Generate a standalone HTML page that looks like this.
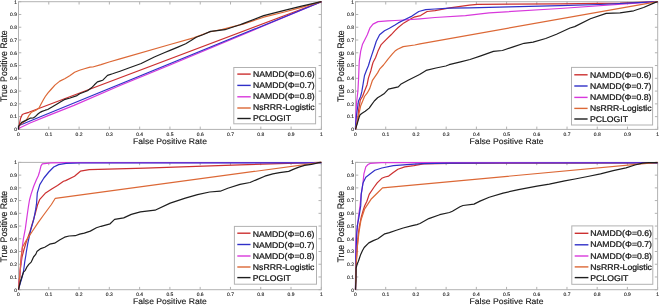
<!DOCTYPE html><html><head><meta charset="utf-8"><style>html,body{margin:0;padding:0;background:#fff;width:659px;height:305px;overflow:hidden}svg{display:block;filter:blur(0.35px)}text{font-family:"Liberation Sans",sans-serif;text-rendering:geometricPrecision}.tg{filter:grayscale(1)}</style></head><body>
<svg width="659" height="305" viewBox="0 0 659 305">
<rect width="659" height="305" fill="#fff"/>
<rect x="18.5" y="1.7" width="302.9" height="127.7" fill="none" stroke="#b2b2b2" stroke-width="1"/>
<path d="M18.5 129.4v-2.8M18.5 1.7v2.8M18.5 129.4h2.8M321.4 129.4h-2.8M48.79 129.4v-2.8M48.79 1.7v2.8M18.5 116.63h2.8M321.4 116.63h-2.8M79.08 129.4v-2.8M79.08 1.7v2.8M18.5 103.86h2.8M321.4 103.86h-2.8M109.37 129.4v-2.8M109.37 1.7v2.8M18.5 91.09h2.8M321.4 91.09h-2.8M139.66 129.4v-2.8M139.66 1.7v2.8M18.5 78.32h2.8M321.4 78.32h-2.8M169.95 129.4v-2.8M169.95 1.7v2.8M18.5 65.55h2.8M321.4 65.55h-2.8M200.24 129.4v-2.8M200.24 1.7v2.8M18.5 52.78h2.8M321.4 52.78h-2.8M230.53 129.4v-2.8M230.53 1.7v2.8M18.5 40.01h2.8M321.4 40.01h-2.8M260.82 129.4v-2.8M260.82 1.7v2.8M18.5 27.24h2.8M321.4 27.24h-2.8M291.11 129.4v-2.8M291.11 1.7v2.8M18.5 14.47h2.8M321.4 14.47h-2.8M321.4 129.4v-2.8M321.4 1.7v2.8M18.5 1.7h2.8M321.4 1.7h-2.8" stroke="#b2b2b2" stroke-width="1" fill="none"/>
<polyline fill="none" stroke="#cc3030" stroke-width="1.2" stroke-linejoin="round" points="18.5,129.4 18.8,127 20.5,118.6 22.3,114.5 25.3,113.3 28.8,112.3 321.4,1.7"/>
<polyline fill="none" stroke="#d838dc" stroke-width="1.2" stroke-linejoin="round" points="18.5,129.4 19.5,128 30,123 50,114.9 74,105.4 120,85.5 170,65 321.4,1.7"/>
<polyline fill="none" stroke="#3030c8" stroke-width="1.2" stroke-linejoin="round" points="18.5,129.4 18.5,125.7 321.4,1.7"/>
<polyline fill="none" stroke="#dc6836" stroke-width="1.2" stroke-linejoin="round" points="18.5,129.4 19,125.5 23.1,122.5 26.4,120 28.8,115.7 31.5,112.2 35.9,110.2 39,108.1 41.2,103.8 43.5,99.5 45.3,96.5 48,92.8 51,89.5 54.9,85.1 59.8,81.1 64.7,78.7 69.7,75.7 74.6,72.3 79.5,70.3 84.4,68.8 90,67.1 92.8,67 101,64.6 109.2,62 120,58.8 170,44.5 193.6,37.9 209.3,32 222.4,29.4 240,24.8 243,24.1 263.7,17.2 284.4,12 300.5,7.6 321.4,1.7"/>
<polyline fill="none" stroke="#1e1e1e" stroke-width="1.2" stroke-linejoin="round" points="18.5,129.4 18.5,126.5 21.7,122.4 26.4,120.1 30.1,118.2 33.5,117.8 35.5,116.4 38.2,113.8 40.6,112.1 42.1,111.4 45.3,110.2 47.7,109.5 52.4,106.8 57.1,103.9 59.5,102.4 64.2,99.7 70.1,98 77,95.6 79.7,93.7 87.5,90.7 91.5,87.8 94.4,84.8 97.4,81.9 100,81.1 102.6,80.3 107.5,75.4 112.5,73.8 120,71.2 128.1,68.2 141.2,63.5 154.3,57 164.8,52.5 170,50.4 177.9,47.1 185.7,43.8 191,40.6 196.2,37.3 202.8,34.7 210.6,31.4 217.2,30.7 225,29.7 231.6,27.5 240,24.8 243,23.6 263.7,15.6 284.4,10.3 300.5,6.4 321.4,1.7"/>
<rect x="233.8" y="67.5" width="81.8" height="56.3" fill="#fff" stroke="#b2b2b2" stroke-width="1"/>
<line x1="237.3" y1="74.1" x2="250.7" y2="74.1" stroke="#cc3030" stroke-width="1.4"/>
<line x1="237.3" y1="85.4" x2="250.7" y2="85.4" stroke="#3030c8" stroke-width="1.4"/>
<line x1="237.3" y1="96.8" x2="250.7" y2="96.8" stroke="#d838dc" stroke-width="1.4"/>
<line x1="237.3" y1="108" x2="250.7" y2="108" stroke="#dc6836" stroke-width="1.4"/>
<line x1="237.3" y1="118.5" x2="250.7" y2="118.5" stroke="#1e1e1e" stroke-width="1.4"/>
<rect x="355.5" y="1.7" width="302.2" height="127.7" fill="none" stroke="#b2b2b2" stroke-width="1"/>
<path d="M355.5 129.4v-2.8M355.5 1.7v2.8M355.5 129.4h2.8M657.7 129.4h-2.8M385.72 129.4v-2.8M385.72 1.7v2.8M355.5 116.63h2.8M657.7 116.63h-2.8M415.94 129.4v-2.8M415.94 1.7v2.8M355.5 103.86h2.8M657.7 103.86h-2.8M446.16 129.4v-2.8M446.16 1.7v2.8M355.5 91.09h2.8M657.7 91.09h-2.8M476.38 129.4v-2.8M476.38 1.7v2.8M355.5 78.32h2.8M657.7 78.32h-2.8M506.6 129.4v-2.8M506.6 1.7v2.8M355.5 65.55h2.8M657.7 65.55h-2.8M536.82 129.4v-2.8M536.82 1.7v2.8M355.5 52.78h2.8M657.7 52.78h-2.8M567.04 129.4v-2.8M567.04 1.7v2.8M355.5 40.01h2.8M657.7 40.01h-2.8M597.26 129.4v-2.8M597.26 1.7v2.8M355.5 27.24h2.8M657.7 27.24h-2.8M627.48 129.4v-2.8M627.48 1.7v2.8M355.5 14.47h2.8M657.7 14.47h-2.8M657.7 129.4v-2.8M657.7 1.7v2.8M355.5 1.7h2.8M657.7 1.7h-2.8" stroke="#b2b2b2" stroke-width="1" fill="none"/>
<polyline fill="none" stroke="#cc3030" stroke-width="1.2" stroke-linejoin="round" points="355.5,129.4 356,127.4 357.6,120.3 358.6,110.2 360.3,100 362.5,96.5 364.5,91.2 367.1,84.7 368.4,78.1 371,70.2 372.3,65 373,62.6 375.5,57.7 378,51.1 381.2,44.6 386.1,39.7 391.1,34.8 395,30.7 398.2,27.5 403.9,22.9 411.9,18.3 414,17.2 420.6,15.6 427.1,11.5 435,10.7 449.7,7.9 469.4,5.2 477.3,4.4 560,3.9 620,3.2 657.7,1.7"/>
<polyline fill="none" stroke="#d838dc" stroke-width="1.2" stroke-linejoin="round" points="355.5,129.4 355.6,125 356,112 356.6,102 357.9,91.2 358.6,78.1 359.1,65 359.3,61 360.7,51.1 362.4,44.6 364.8,39.7 367.3,34.8 369.8,28.2 373,24.1 378,21.6 387.8,20.8 395,20.5 404.2,20 420,18.8 435,17.5 465.5,15.6 489.2,12.8 560,8.5 657.7,1.7"/>
<polyline fill="none" stroke="#3030c8" stroke-width="1.2" stroke-linejoin="round" points="355.5,129.4 355.5,126.4 356.5,115.2 357.5,108 358.5,101 360.6,96.5 361.9,91.2 363.2,83.3 364.5,75.5 366.5,70.2 368.5,65.5 369.8,61 371.4,56.1 373.9,48.7 376.3,41.3 379.6,34.8 384.5,30.7 389.4,28.2 395,24.9 398.2,22.9 405,19.5 412,16.1 418.8,11.5 425.7,9.6 435,9 449.7,8.2 469.4,7.8 508.9,6.9 560,5.7 600,4.5 657.7,1.7"/>
<polyline fill="none" stroke="#dc6836" stroke-width="1.2" stroke-linejoin="round" points="355.5,129.4 357,122.4 359.1,113.2 360.6,106.1 363.1,100 364.5,96.5 367.1,93.2 369.7,88.6 372.3,80.7 377.6,72.9 379.6,69.2 383.5,65 387.8,59.3 392.4,53.8 395,51.1 397.6,49.2 403.2,46.6 414.7,45 420,43.8 657.7,1.7"/>
<polyline fill="none" stroke="#1e1e1e" stroke-width="1.2" stroke-linejoin="round" points="355.5,129.4 357.6,122.4 359.1,117.3 360.1,114.7 362.1,113.2 365.2,111.2 369.2,108.1 371.3,105.1 374.3,101 377.6,97.8 381.3,95.6 384,93.8 388.4,89.2 395,87.6 398.3,86.8 400.7,84.3 408.1,80.2 419.6,74.5 426.1,70.4 436,68 445.8,66 449.1,64.7 460.6,61.9 470,59.5 480.8,55.9 493.4,51.4 502.4,50.5 513.2,46.9 524.1,43.3 533.1,42.1 545.7,38.5 556.5,34.3 570,28 574.7,26.6 590.4,18.7 606.2,13.4 620,12.8 633.7,10.8 643.6,7.5 655.4,2.4 657.7,1.7"/>
<rect x="571.5" y="67.4" width="81.1" height="57.6" fill="#fff" stroke="#b2b2b2" stroke-width="1"/>
<line x1="574.3" y1="74.8" x2="587.6" y2="74.8" stroke="#cc3030" stroke-width="1.4"/>
<line x1="574.3" y1="86" x2="587.6" y2="86" stroke="#3030c8" stroke-width="1.4"/>
<line x1="574.3" y1="97.4" x2="587.6" y2="97.4" stroke="#d838dc" stroke-width="1.4"/>
<line x1="574.3" y1="108.4" x2="587.6" y2="108.4" stroke="#dc6836" stroke-width="1.4"/>
<line x1="574.3" y1="119" x2="587.6" y2="119" stroke="#1e1e1e" stroke-width="1.4"/>
<rect x="18.5" y="162.4" width="302.8" height="127.3" fill="none" stroke="#b2b2b2" stroke-width="1"/>
<path d="M18.5 289.7v-2.8M18.5 162.4v2.8M18.5 289.7h2.8M321.3 289.7h-2.8M48.78 289.7v-2.8M48.78 162.4v2.8M18.5 276.97h2.8M321.3 276.97h-2.8M79.06 289.7v-2.8M79.06 162.4v2.8M18.5 264.24h2.8M321.3 264.24h-2.8M109.34 289.7v-2.8M109.34 162.4v2.8M18.5 251.51h2.8M321.3 251.51h-2.8M139.62 289.7v-2.8M139.62 162.4v2.8M18.5 238.78h2.8M321.3 238.78h-2.8M169.9 289.7v-2.8M169.9 162.4v2.8M18.5 226.05h2.8M321.3 226.05h-2.8M200.18 289.7v-2.8M200.18 162.4v2.8M18.5 213.32h2.8M321.3 213.32h-2.8M230.46 289.7v-2.8M230.46 162.4v2.8M18.5 200.59h2.8M321.3 200.59h-2.8M260.74 289.7v-2.8M260.74 162.4v2.8M18.5 187.86h2.8M321.3 187.86h-2.8M291.02 289.7v-2.8M291.02 162.4v2.8M18.5 175.13h2.8M321.3 175.13h-2.8M321.3 289.7v-2.8M321.3 162.4v2.8M18.5 162.4h2.8M321.3 162.4h-2.8" stroke="#b2b2b2" stroke-width="1" fill="none"/>
<polyline fill="none" stroke="#cc3030" stroke-width="1.2" stroke-linejoin="round" points="18.5,289.7 18.7,287 20.5,267.6 22,257.1 24.1,249 26.3,241.9 30,231.5 35.2,213.8 37.5,205 39.8,199.3 45.2,193.3 52.1,188.7 57.5,185.5 63.5,181.3 65.6,180.6 74.5,176.2 80.4,171.2 89.2,169.7 145,168.1 240,164.9 321.3,162.4"/>
<polyline fill="none" stroke="#d838dc" stroke-width="1.2" stroke-linejoin="round" points="18.5,289.7 19,282.7 20.5,267.6 21.9,250 23.4,238.9 25.3,228.9 27.2,215 28.5,206 29.5,200 31.1,194.1 33.7,186.2 36.4,179.7 38.3,175.7 39.7,171.2 41,165.9 42.3,163.9 50.8,162.9 66,162.6 321.3,162.5"/>
<polyline fill="none" stroke="#3030c8" stroke-width="1.2" stroke-linejoin="round" points="18.5,289.7 18.8,288.1 21.7,278.6 23.5,271.5 24.7,262.1 25.9,255 26.3,252 27.8,243.3 30.7,230.1 33.7,219.7 35.7,209.2 36.6,203 37.3,192.8 39.8,184.6 43.9,178 48.8,172 53.7,167 58.6,164.6 66,163.3 80,163 321.3,162.9"/>
<polyline fill="none" stroke="#dc6836" stroke-width="1.2" stroke-linejoin="round" points="18.5,289.7 19,284 19.8,275 20.8,260 22.5,247 26.3,240.4 32.2,231.5 38.1,222.7 44,214.5 48.8,208 51.4,204.5 55.3,198.3 321.3,162.4"/>
<polyline fill="none" stroke="#1e1e1e" stroke-width="1.2" stroke-linejoin="round" points="18.5,289.7 18.8,288.1 20.5,281 22.3,275.7 23.5,272.1 25.3,270.3 27,266.8 28.8,264.4 31.2,262.1 32.3,259.7 33.5,257 35.9,254.1 36.9,251.6 40.8,248.6 44.7,247.2 49.7,244.2 54.6,243.2 60,239.8 64.6,237.2 69.1,236 75.2,235.7 79.7,234.1 84.3,233.1 90.3,231.1 96.4,227.8 101,226.3 110.1,223.8 114.6,219.4 123.7,217.9 131.3,214.4 140.4,211.8 155,210.2 170.2,203.1 185.3,198.1 197.5,194.6 209.6,192 220.3,191.2 227.8,188.2 240,184.4 250,182.5 256.8,179.6 264.8,176.2 272.8,173.9 279.6,172.6 288.7,171.4 293.2,169.4 298.9,167.1 304.6,165.4 311.4,164.3 314.8,163.7 318.3,162.6 321.3,162.4"/>
<rect x="234.4" y="226.4" width="82.1" height="57.8" fill="#fff" stroke="#b2b2b2" stroke-width="1"/>
<line x1="237.3" y1="233.2" x2="250.5" y2="233.2" stroke="#cc3030" stroke-width="1.4"/>
<line x1="237.3" y1="244.5" x2="250.5" y2="244.5" stroke="#3030c8" stroke-width="1.4"/>
<line x1="237.3" y1="256" x2="250.5" y2="256" stroke="#d838dc" stroke-width="1.4"/>
<line x1="237.3" y1="267" x2="250.5" y2="267" stroke="#dc6836" stroke-width="1.4"/>
<line x1="237.3" y1="277.6" x2="250.5" y2="277.6" stroke="#1e1e1e" stroke-width="1.4"/>
<rect x="355.5" y="162.4" width="302.1" height="127.3" fill="none" stroke="#b2b2b2" stroke-width="1"/>
<path d="M355.5 289.7v-2.8M355.5 162.4v2.8M355.5 289.7h2.8M657.6 289.7h-2.8M385.71 289.7v-2.8M385.71 162.4v2.8M355.5 276.97h2.8M657.6 276.97h-2.8M415.92 289.7v-2.8M415.92 162.4v2.8M355.5 264.24h2.8M657.6 264.24h-2.8M446.13 289.7v-2.8M446.13 162.4v2.8M355.5 251.51h2.8M657.6 251.51h-2.8M476.34 289.7v-2.8M476.34 162.4v2.8M355.5 238.78h2.8M657.6 238.78h-2.8M506.55 289.7v-2.8M506.55 162.4v2.8M355.5 226.05h2.8M657.6 226.05h-2.8M536.76 289.7v-2.8M536.76 162.4v2.8M355.5 213.32h2.8M657.6 213.32h-2.8M566.97 289.7v-2.8M566.97 162.4v2.8M355.5 200.59h2.8M657.6 200.59h-2.8M597.18 289.7v-2.8M597.18 162.4v2.8M355.5 187.86h2.8M657.6 187.86h-2.8M627.39 289.7v-2.8M627.39 162.4v2.8M355.5 175.13h2.8M657.6 175.13h-2.8M657.6 289.7v-2.8M657.6 162.4v2.8M355.5 162.4h2.8M657.6 162.4h-2.8" stroke="#b2b2b2" stroke-width="1" fill="none"/>
<polyline fill="none" stroke="#cc3030" stroke-width="1.2" stroke-linejoin="round" points="355.5,289.7 355.9,270 357.1,250 358.2,234.5 359.6,225 361.2,217.3 363,211 364.6,205.9 366.9,201.3 369.2,194.4 373.8,187.5 377.2,182.9 381.8,178.3 385,177 388.7,176.1 393.3,172.6 397.9,169.2 404.8,166.9 413.9,165.7 422,164.1 424.1,163.9 450,163.3 500,163.1 657.6,162.9"/>
<polyline fill="none" stroke="#d838dc" stroke-width="1.2" stroke-linejoin="round" points="355.5,289.7 355.6,270 355.7,250 356,238 357,228.8 358.4,217.3 360,205.9 361.2,194.4 363,182.9 363.9,173.8 365.8,166.9 368,164.5 370.3,163.4 381.8,162.6 657.6,162.5"/>
<polyline fill="none" stroke="#3030c8" stroke-width="1.2" stroke-linejoin="round" points="355.5,289.7 355.7,260 356.7,234.5 357.5,225 358.9,217.3 360.7,205.9 361.2,194.4 363,183 365.8,177.2 370.3,173.8 374.9,170.3 381.8,168 393.3,165.7 407,164.6 422,163.6 450,163.2 500,163 657.6,162.9"/>
<polyline fill="none" stroke="#dc6836" stroke-width="1.2" stroke-linejoin="round" points="355.5,289.7 356,265 357.5,245 359,232 361,220 364.5,209.2 371,199.3 377.6,192.8 382.5,187.9 657.6,162.4"/>
<polyline fill="none" stroke="#1e1e1e" stroke-width="1.2" stroke-linejoin="round" points="355.5,289.7 356,280 356.1,268.2 357.2,264 358.4,261.3 360.7,254.4 362.5,250.5 364.2,247.5 368.8,242.9 373.3,240.6 377.9,238.8 384.8,233.8 389.4,232.6 396.3,230.3 403.2,228 412.3,225.7 416.9,224.6 420,223.5 428.8,218.6 439.7,214.7 449.5,212.5 452.4,211.2 460,206.8 463,205.5 474,204.1 480,201.1 489.2,197.3 503.1,193.1 518.5,189.6 537,186.2 549.3,184.2 564.7,180.8 575,179 587.7,176.5 600.5,173.9 613.2,170.7 626,167.9 634.9,165 642.5,163.1 648.9,162.6 657.6,162.6"/>
<rect x="571.8" y="225.9" width="81" height="58.4" fill="#fff" stroke="#b2b2b2" stroke-width="1"/>
<line x1="574.7" y1="233.3" x2="588.4" y2="233.3" stroke="#cc3030" stroke-width="1.4"/>
<line x1="574.7" y1="244.8" x2="588.4" y2="244.8" stroke="#3030c8" stroke-width="1.4"/>
<line x1="574.7" y1="256" x2="588.4" y2="256" stroke="#d838dc" stroke-width="1.4"/>
<line x1="574.7" y1="266.9" x2="588.4" y2="266.9" stroke="#dc6836" stroke-width="1.4"/>
<line x1="574.7" y1="277.6" x2="588.4" y2="277.6" stroke="#1e1e1e" stroke-width="1.4"/>
<g class="tg"><text font-size="50" text-anchor="middle" transform="translate(18.5 135.6) scale(0.1 0.1)" fill="#222222" stroke="#222222" stroke-width="1.2">0</text><text font-size="50" text-anchor="end" transform="translate(17 131.2) scale(0.1 0.1)" fill="#222222" stroke="#222222" stroke-width="1.2">0</text><text font-size="50" text-anchor="middle" transform="translate(48.79 135.6) scale(0.1 0.1)" fill="#222222" stroke="#222222" stroke-width="1.2">0.1</text><text font-size="50" text-anchor="end" transform="translate(17 118.43) scale(0.1 0.1)" fill="#222222" stroke="#222222" stroke-width="1.2">0.1</text><text font-size="50" text-anchor="middle" transform="translate(79.08 135.6) scale(0.1 0.1)" fill="#222222" stroke="#222222" stroke-width="1.2">0.2</text><text font-size="50" text-anchor="end" transform="translate(17 105.66) scale(0.1 0.1)" fill="#222222" stroke="#222222" stroke-width="1.2">0.2</text><text font-size="50" text-anchor="middle" transform="translate(109.37 135.6) scale(0.1 0.1)" fill="#222222" stroke="#222222" stroke-width="1.2">0.3</text><text font-size="50" text-anchor="end" transform="translate(17 92.89) scale(0.1 0.1)" fill="#222222" stroke="#222222" stroke-width="1.2">0.3</text><text font-size="50" text-anchor="middle" transform="translate(139.66 135.6) scale(0.1 0.1)" fill="#222222" stroke="#222222" stroke-width="1.2">0.4</text><text font-size="50" text-anchor="end" transform="translate(17 80.12) scale(0.1 0.1)" fill="#222222" stroke="#222222" stroke-width="1.2">0.4</text><text font-size="50" text-anchor="middle" transform="translate(169.95 135.6) scale(0.1 0.1)" fill="#222222" stroke="#222222" stroke-width="1.2">0.5</text><text font-size="50" text-anchor="end" transform="translate(17 67.35) scale(0.1 0.1)" fill="#222222" stroke="#222222" stroke-width="1.2">0.5</text><text font-size="50" text-anchor="middle" transform="translate(200.24 135.6) scale(0.1 0.1)" fill="#222222" stroke="#222222" stroke-width="1.2">0.6</text><text font-size="50" text-anchor="end" transform="translate(17 54.58) scale(0.1 0.1)" fill="#222222" stroke="#222222" stroke-width="1.2">0.6</text><text font-size="50" text-anchor="middle" transform="translate(230.53 135.6) scale(0.1 0.1)" fill="#222222" stroke="#222222" stroke-width="1.2">0.7</text><text font-size="50" text-anchor="end" transform="translate(17 41.81) scale(0.1 0.1)" fill="#222222" stroke="#222222" stroke-width="1.2">0.7</text><text font-size="50" text-anchor="middle" transform="translate(260.82 135.6) scale(0.1 0.1)" fill="#222222" stroke="#222222" stroke-width="1.2">0.8</text><text font-size="50" text-anchor="end" transform="translate(17 29.04) scale(0.1 0.1)" fill="#222222" stroke="#222222" stroke-width="1.2">0.8</text><text font-size="50" text-anchor="middle" transform="translate(291.11 135.6) scale(0.1 0.1)" fill="#222222" stroke="#222222" stroke-width="1.2">0.9</text><text font-size="50" text-anchor="end" transform="translate(17 16.27) scale(0.1 0.1)" fill="#222222" stroke="#222222" stroke-width="1.2">0.9</text><text font-size="50" text-anchor="middle" transform="translate(321.4 135.6) scale(0.1 0.1)" fill="#222222" stroke="#222222" stroke-width="1.2">1</text><text font-size="50" text-anchor="end" transform="translate(17 3.5) scale(0.1 0.1)" fill="#222222" stroke="#222222" stroke-width="1.2">1</text><text font-size="81" text-anchor="middle" transform="translate(169.95 143.8) scale(0.106 0.1)" fill="#141414" stroke="#141414" stroke-width="1.2">False Positive Rate</text><text font-size="87.5" text-anchor="middle" transform="translate(6.6 66.15) rotate(-90) scale(0.1 0.108)" fill="#141414" stroke="#141414" stroke-width="1.2">True Positive Rate</text><text font-size="84" text-anchor="start" transform="translate(253 77.3) scale(0.1032 0.1)" fill="#141414" stroke="#141414" stroke-width="2.5">NAMDD(Φ=0.6)</text><text font-size="84" text-anchor="start" transform="translate(253 88.2) scale(0.1032 0.1)" fill="#141414" stroke="#141414" stroke-width="2.5">NAMDD(Φ=0.7)</text><text font-size="84" text-anchor="start" transform="translate(253 99.1) scale(0.1032 0.1)" fill="#141414" stroke="#141414" stroke-width="2.5">NAMDD(Φ=0.8)</text><text font-size="84" text-anchor="start" transform="translate(253 110.3) scale(0.1032 0.1)" fill="#141414" stroke="#141414" stroke-width="2.5">NsRRR-Logistic</text><text font-size="84" text-anchor="start" transform="translate(253 121.3) scale(0.1032 0.1)" fill="#141414" stroke="#141414" stroke-width="2.5">PCLOGIT</text><text font-size="50" text-anchor="middle" transform="translate(355.5 135.6) scale(0.1 0.1)" fill="#222222" stroke="#222222" stroke-width="1.2">0</text><text font-size="50" text-anchor="end" transform="translate(354 131.2) scale(0.1 0.1)" fill="#222222" stroke="#222222" stroke-width="1.2">0</text><text font-size="50" text-anchor="middle" transform="translate(385.72 135.6) scale(0.1 0.1)" fill="#222222" stroke="#222222" stroke-width="1.2">0.1</text><text font-size="50" text-anchor="end" transform="translate(354 118.43) scale(0.1 0.1)" fill="#222222" stroke="#222222" stroke-width="1.2">0.1</text><text font-size="50" text-anchor="middle" transform="translate(415.94 135.6) scale(0.1 0.1)" fill="#222222" stroke="#222222" stroke-width="1.2">0.2</text><text font-size="50" text-anchor="end" transform="translate(354 105.66) scale(0.1 0.1)" fill="#222222" stroke="#222222" stroke-width="1.2">0.2</text><text font-size="50" text-anchor="middle" transform="translate(446.16 135.6) scale(0.1 0.1)" fill="#222222" stroke="#222222" stroke-width="1.2">0.3</text><text font-size="50" text-anchor="end" transform="translate(354 92.89) scale(0.1 0.1)" fill="#222222" stroke="#222222" stroke-width="1.2">0.3</text><text font-size="50" text-anchor="middle" transform="translate(476.38 135.6) scale(0.1 0.1)" fill="#222222" stroke="#222222" stroke-width="1.2">0.4</text><text font-size="50" text-anchor="end" transform="translate(354 80.12) scale(0.1 0.1)" fill="#222222" stroke="#222222" stroke-width="1.2">0.4</text><text font-size="50" text-anchor="middle" transform="translate(506.6 135.6) scale(0.1 0.1)" fill="#222222" stroke="#222222" stroke-width="1.2">0.5</text><text font-size="50" text-anchor="end" transform="translate(354 67.35) scale(0.1 0.1)" fill="#222222" stroke="#222222" stroke-width="1.2">0.5</text><text font-size="50" text-anchor="middle" transform="translate(536.82 135.6) scale(0.1 0.1)" fill="#222222" stroke="#222222" stroke-width="1.2">0.6</text><text font-size="50" text-anchor="end" transform="translate(354 54.58) scale(0.1 0.1)" fill="#222222" stroke="#222222" stroke-width="1.2">0.6</text><text font-size="50" text-anchor="middle" transform="translate(567.04 135.6) scale(0.1 0.1)" fill="#222222" stroke="#222222" stroke-width="1.2">0.7</text><text font-size="50" text-anchor="end" transform="translate(354 41.81) scale(0.1 0.1)" fill="#222222" stroke="#222222" stroke-width="1.2">0.7</text><text font-size="50" text-anchor="middle" transform="translate(597.26 135.6) scale(0.1 0.1)" fill="#222222" stroke="#222222" stroke-width="1.2">0.8</text><text font-size="50" text-anchor="end" transform="translate(354 29.04) scale(0.1 0.1)" fill="#222222" stroke="#222222" stroke-width="1.2">0.8</text><text font-size="50" text-anchor="middle" transform="translate(627.48 135.6) scale(0.1 0.1)" fill="#222222" stroke="#222222" stroke-width="1.2">0.9</text><text font-size="50" text-anchor="end" transform="translate(354 16.27) scale(0.1 0.1)" fill="#222222" stroke="#222222" stroke-width="1.2">0.9</text><text font-size="50" text-anchor="middle" transform="translate(657.7 135.6) scale(0.1 0.1)" fill="#222222" stroke="#222222" stroke-width="1.2">1</text><text font-size="50" text-anchor="end" transform="translate(354 3.5) scale(0.1 0.1)" fill="#222222" stroke="#222222" stroke-width="1.2">1</text><text font-size="81" text-anchor="middle" transform="translate(506.6 143.8) scale(0.106 0.1)" fill="#141414" stroke="#141414" stroke-width="1.2">False Positive Rate</text><text font-size="87.5" text-anchor="middle" transform="translate(343.6 66.15) rotate(-90) scale(0.1 0.108)" fill="#141414" stroke="#141414" stroke-width="1.2">True Positive Rate</text><text font-size="84" text-anchor="start" transform="translate(589.9 77.95) scale(0.1032 0.1)" fill="#141414" stroke="#141414" stroke-width="2.5">NAMDD(Φ=0.6)</text><text font-size="84" text-anchor="start" transform="translate(589.9 88.75) scale(0.1032 0.1)" fill="#141414" stroke="#141414" stroke-width="2.5">NAMDD(Φ=0.7)</text><text font-size="84" text-anchor="start" transform="translate(589.9 99.65) scale(0.1032 0.1)" fill="#141414" stroke="#141414" stroke-width="2.5">NAMDD(Φ=0.8)</text><text font-size="84" text-anchor="start" transform="translate(589.9 110.65) scale(0.1032 0.1)" fill="#141414" stroke="#141414" stroke-width="2.5">NsRRR-Logistic</text><text font-size="84" text-anchor="start" transform="translate(589.9 121.65) scale(0.1032 0.1)" fill="#141414" stroke="#141414" stroke-width="2.5">PCLOGIT</text><text font-size="50" text-anchor="middle" transform="translate(18.5 295.9) scale(0.1 0.1)" fill="#222222" stroke="#222222" stroke-width="1.2">0</text><text font-size="50" text-anchor="end" transform="translate(17 291.5) scale(0.1 0.1)" fill="#222222" stroke="#222222" stroke-width="1.2">0</text><text font-size="50" text-anchor="middle" transform="translate(48.78 295.9) scale(0.1 0.1)" fill="#222222" stroke="#222222" stroke-width="1.2">0.1</text><text font-size="50" text-anchor="end" transform="translate(17 278.77) scale(0.1 0.1)" fill="#222222" stroke="#222222" stroke-width="1.2">0.1</text><text font-size="50" text-anchor="middle" transform="translate(79.06 295.9) scale(0.1 0.1)" fill="#222222" stroke="#222222" stroke-width="1.2">0.2</text><text font-size="50" text-anchor="end" transform="translate(17 266.04) scale(0.1 0.1)" fill="#222222" stroke="#222222" stroke-width="1.2">0.2</text><text font-size="50" text-anchor="middle" transform="translate(109.34 295.9) scale(0.1 0.1)" fill="#222222" stroke="#222222" stroke-width="1.2">0.3</text><text font-size="50" text-anchor="end" transform="translate(17 253.31) scale(0.1 0.1)" fill="#222222" stroke="#222222" stroke-width="1.2">0.3</text><text font-size="50" text-anchor="middle" transform="translate(139.62 295.9) scale(0.1 0.1)" fill="#222222" stroke="#222222" stroke-width="1.2">0.4</text><text font-size="50" text-anchor="end" transform="translate(17 240.58) scale(0.1 0.1)" fill="#222222" stroke="#222222" stroke-width="1.2">0.4</text><text font-size="50" text-anchor="middle" transform="translate(169.9 295.9) scale(0.1 0.1)" fill="#222222" stroke="#222222" stroke-width="1.2">0.5</text><text font-size="50" text-anchor="end" transform="translate(17 227.85) scale(0.1 0.1)" fill="#222222" stroke="#222222" stroke-width="1.2">0.5</text><text font-size="50" text-anchor="middle" transform="translate(200.18 295.9) scale(0.1 0.1)" fill="#222222" stroke="#222222" stroke-width="1.2">0.6</text><text font-size="50" text-anchor="end" transform="translate(17 215.12) scale(0.1 0.1)" fill="#222222" stroke="#222222" stroke-width="1.2">0.6</text><text font-size="50" text-anchor="middle" transform="translate(230.46 295.9) scale(0.1 0.1)" fill="#222222" stroke="#222222" stroke-width="1.2">0.7</text><text font-size="50" text-anchor="end" transform="translate(17 202.39) scale(0.1 0.1)" fill="#222222" stroke="#222222" stroke-width="1.2">0.7</text><text font-size="50" text-anchor="middle" transform="translate(260.74 295.9) scale(0.1 0.1)" fill="#222222" stroke="#222222" stroke-width="1.2">0.8</text><text font-size="50" text-anchor="end" transform="translate(17 189.66) scale(0.1 0.1)" fill="#222222" stroke="#222222" stroke-width="1.2">0.8</text><text font-size="50" text-anchor="middle" transform="translate(291.02 295.9) scale(0.1 0.1)" fill="#222222" stroke="#222222" stroke-width="1.2">0.9</text><text font-size="50" text-anchor="end" transform="translate(17 176.93) scale(0.1 0.1)" fill="#222222" stroke="#222222" stroke-width="1.2">0.9</text><text font-size="50" text-anchor="middle" transform="translate(321.3 295.9) scale(0.1 0.1)" fill="#222222" stroke="#222222" stroke-width="1.2">1</text><text font-size="50" text-anchor="end" transform="translate(17 164.2) scale(0.1 0.1)" fill="#222222" stroke="#222222" stroke-width="1.2">1</text><text font-size="81" text-anchor="middle" transform="translate(169.9 304.1) scale(0.106 0.1)" fill="#141414" stroke="#141414" stroke-width="1.2">False Positive Rate</text><text font-size="87.5" text-anchor="middle" transform="translate(6.6 226.65) rotate(-90) scale(0.1 0.108)" fill="#141414" stroke="#141414" stroke-width="1.2">True Positive Rate</text><text font-size="84" text-anchor="start" transform="translate(252.8 236.9) scale(0.1032 0.1)" fill="#141414" stroke="#141414" stroke-width="2.5">NAMDD(Φ=0.6)</text><text font-size="84" text-anchor="start" transform="translate(252.8 247.8) scale(0.1032 0.1)" fill="#141414" stroke="#141414" stroke-width="2.5">NAMDD(Φ=0.7)</text><text font-size="84" text-anchor="start" transform="translate(252.8 259.1) scale(0.1032 0.1)" fill="#141414" stroke="#141414" stroke-width="2.5">NAMDD(Φ=0.8)</text><text font-size="84" text-anchor="start" transform="translate(252.8 270.2) scale(0.1032 0.1)" fill="#141414" stroke="#141414" stroke-width="2.5">NsRRR-Logistic</text><text font-size="84" text-anchor="start" transform="translate(252.8 280.7) scale(0.1032 0.1)" fill="#141414" stroke="#141414" stroke-width="2.5">PCLOGIT</text><text font-size="50" text-anchor="middle" transform="translate(355.5 295.9) scale(0.1 0.1)" fill="#222222" stroke="#222222" stroke-width="1.2">0</text><text font-size="50" text-anchor="end" transform="translate(354 291.5) scale(0.1 0.1)" fill="#222222" stroke="#222222" stroke-width="1.2">0</text><text font-size="50" text-anchor="middle" transform="translate(385.71 295.9) scale(0.1 0.1)" fill="#222222" stroke="#222222" stroke-width="1.2">0.1</text><text font-size="50" text-anchor="end" transform="translate(354 278.77) scale(0.1 0.1)" fill="#222222" stroke="#222222" stroke-width="1.2">0.1</text><text font-size="50" text-anchor="middle" transform="translate(415.92 295.9) scale(0.1 0.1)" fill="#222222" stroke="#222222" stroke-width="1.2">0.2</text><text font-size="50" text-anchor="end" transform="translate(354 266.04) scale(0.1 0.1)" fill="#222222" stroke="#222222" stroke-width="1.2">0.2</text><text font-size="50" text-anchor="middle" transform="translate(446.13 295.9) scale(0.1 0.1)" fill="#222222" stroke="#222222" stroke-width="1.2">0.3</text><text font-size="50" text-anchor="end" transform="translate(354 253.31) scale(0.1 0.1)" fill="#222222" stroke="#222222" stroke-width="1.2">0.3</text><text font-size="50" text-anchor="middle" transform="translate(476.34 295.9) scale(0.1 0.1)" fill="#222222" stroke="#222222" stroke-width="1.2">0.4</text><text font-size="50" text-anchor="end" transform="translate(354 240.58) scale(0.1 0.1)" fill="#222222" stroke="#222222" stroke-width="1.2">0.4</text><text font-size="50" text-anchor="middle" transform="translate(506.55 295.9) scale(0.1 0.1)" fill="#222222" stroke="#222222" stroke-width="1.2">0.5</text><text font-size="50" text-anchor="end" transform="translate(354 227.85) scale(0.1 0.1)" fill="#222222" stroke="#222222" stroke-width="1.2">0.5</text><text font-size="50" text-anchor="middle" transform="translate(536.76 295.9) scale(0.1 0.1)" fill="#222222" stroke="#222222" stroke-width="1.2">0.6</text><text font-size="50" text-anchor="end" transform="translate(354 215.12) scale(0.1 0.1)" fill="#222222" stroke="#222222" stroke-width="1.2">0.6</text><text font-size="50" text-anchor="middle" transform="translate(566.97 295.9) scale(0.1 0.1)" fill="#222222" stroke="#222222" stroke-width="1.2">0.7</text><text font-size="50" text-anchor="end" transform="translate(354 202.39) scale(0.1 0.1)" fill="#222222" stroke="#222222" stroke-width="1.2">0.7</text><text font-size="50" text-anchor="middle" transform="translate(597.18 295.9) scale(0.1 0.1)" fill="#222222" stroke="#222222" stroke-width="1.2">0.8</text><text font-size="50" text-anchor="end" transform="translate(354 189.66) scale(0.1 0.1)" fill="#222222" stroke="#222222" stroke-width="1.2">0.8</text><text font-size="50" text-anchor="middle" transform="translate(627.39 295.9) scale(0.1 0.1)" fill="#222222" stroke="#222222" stroke-width="1.2">0.9</text><text font-size="50" text-anchor="end" transform="translate(354 176.93) scale(0.1 0.1)" fill="#222222" stroke="#222222" stroke-width="1.2">0.9</text><text font-size="50" text-anchor="middle" transform="translate(657.6 295.9) scale(0.1 0.1)" fill="#222222" stroke="#222222" stroke-width="1.2">1</text><text font-size="50" text-anchor="end" transform="translate(354 164.2) scale(0.1 0.1)" fill="#222222" stroke="#222222" stroke-width="1.2">1</text><text font-size="81" text-anchor="middle" transform="translate(506.55 304.1) scale(0.106 0.1)" fill="#141414" stroke="#141414" stroke-width="1.2">False Positive Rate</text><text font-size="87.5" text-anchor="middle" transform="translate(343.6 226.65) rotate(-90) scale(0.1 0.108)" fill="#141414" stroke="#141414" stroke-width="1.2">True Positive Rate</text><text font-size="84" text-anchor="start" transform="translate(590.3 236.2) scale(0.1032 0.1)" fill="#141414" stroke="#141414" stroke-width="2.5">NAMDD(Φ=0.6)</text><text font-size="84" text-anchor="start" transform="translate(590.3 247.1) scale(0.1032 0.1)" fill="#141414" stroke="#141414" stroke-width="2.5">NAMDD(Φ=0.7)</text><text font-size="84" text-anchor="start" transform="translate(590.3 258.7) scale(0.1032 0.1)" fill="#141414" stroke="#141414" stroke-width="2.5">NAMDD(Φ=0.8)</text><text font-size="84" text-anchor="start" transform="translate(590.3 269.8) scale(0.1032 0.1)" fill="#141414" stroke="#141414" stroke-width="2.5">NsRRR-Logistic</text><text font-size="84" text-anchor="start" transform="translate(590.3 280.6) scale(0.1032 0.1)" fill="#141414" stroke="#141414" stroke-width="2.5">PCLOGIT</text></g>
</svg></body></html>
